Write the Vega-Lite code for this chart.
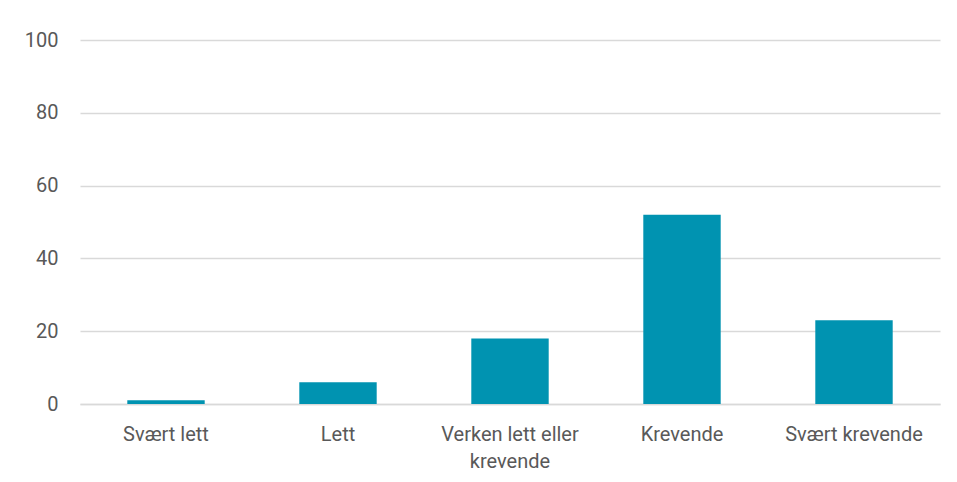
{
  "$schema": "https://vega.github.io/schema/vega-lite/v6.json",
  "autosize": {"type": "none"},
  "width": 860,
  "height": 364,
  "padding": {"left": 80, "top": 40, "right": 17, "bottom": 78},
  "background": "white",
  "config": {"view": {"stroke": null}, "font": "Roboto"},
  "data": {"values": [
    {"kategori": "Svært lett", "prosent": 1},
    {"kategori": "Lett", "prosent": 6},
    {"kategori": "Verken lett eller krevende", "prosent": 18},
    {"kategori": "Krevende", "prosent": 52},
    {"kategori": "Svært krevende", "prosent": 23}
  ]},
  "mark": {"type": "bar", "color": "#0093b1"},
  "encoding": {
    "x": {
      "field": "kategori", "type": "nominal", "sort": null, "title": null,
      "scale": {"paddingInner": 0.55, "paddingOuter": 0.275},
      "axis": {
        "labelAngle": 0, "labelFontSize": 20, "labelColor": "#595959", "labelFont": "Roboto",
        "ticks": false, "domainColor": "#d9d9d9", "domainWidth": 1.5, "labelPadding": 20,
        "labelLimit": 250, "labelLineHeight": 27,
        "labelExpr": "datum.label == 'Verken lett eller krevende' ? ['Verken lett eller', 'krevende'] : datum.label"
      }
    },
    "y": {
      "field": "prosent", "type": "quantitative", "title": null,
      "scale": {"domain": [0, 100]},
      "axis": {
        "values": [0, 20, 40, 60, 80, 100], "labelFontSize": 20, "labelColor": "#595959",
        "labelFont": "Roboto", "ticks": false, "domain": false, "gridColor": "#d9d9d9",
        "gridWidth": 1.5, "labelPadding": 22
      }
    }
  }
}
